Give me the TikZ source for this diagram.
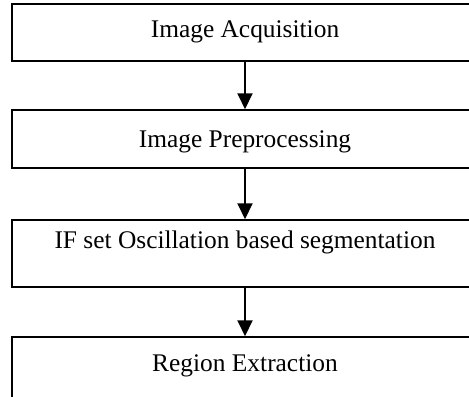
\documentclass[tikz,border=0pt]{standalone}
\usepackage{fontspec}
\setmainfont{Liberation Serif}
\usetikzlibrary{arrows.meta}
\tikzset{
  stepbox/.style={draw, line width=0.75pt, minimum width=233pt, inner sep=0pt},
  steptext/.style={anchor=base, font=\fontsize{12.7}{15}\selectfont},
  flowarrow/.style={line width=1pt, -{Triangle[width=7.5pt,length=8pt]}}
}
\begin{document}
\begin{tikzpicture}[x=0.5pt,y=-0.5pt]
  \useasboundingbox (0,0) rectangle (469,396);
  \clip (0,0) rectangle (469,396);
  % boxes
  \node[stepbox, minimum height=28.5pt] (acq) at (245,32.5) {};
  \node[stepbox, minimum height=29pt] (pre) at (245,139) {};
  \node[stepbox, minimum height=33.5pt] (seg) at (245,253.5) {};
  \node[stepbox, minimum height=41.5pt] (reg) at (245,378.5) {};
  % labels
  \node[steptext] (acqtext) at (245,37.7) {Image Acquisition};
  \node[steptext] (pretext) at (245,147.7) {Image Preprocessing};
  \node[steptext] (segtext) at (245,248) {IF set Oscillation based segmentation};
  \node[steptext] (regtext) at (245,371) {Region Extraction};
  % arrows
  \draw[flowarrow] (acq.south) -- (pre.north);
  \draw[flowarrow] (pre.south) -- (seg.north);
  \draw[flowarrow] (seg.south) -- (reg.north);
\end{tikzpicture}
\end{document}
